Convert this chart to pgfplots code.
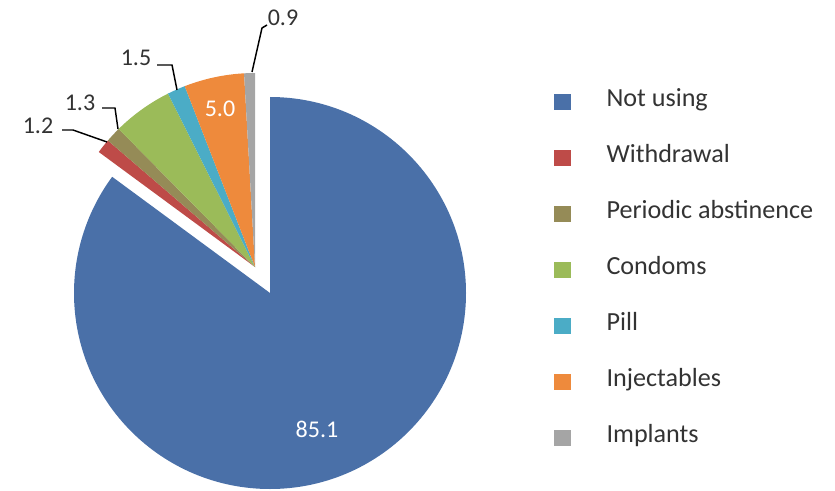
\documentclass[border=0pt]{standalone}
\usepackage{pgfplots}
\usepackage{pgfplotstable}
\usepackage{fontspec}
\setmainfont{Carlito}
\pgfplotsset{compat=1.18}
\definecolor{cNot}{HTML}{4A70A8}
\definecolor{cWith}{HTML}{BE4B48}
\definecolor{cPer}{HTML}{958B57}
\definecolor{cCon}{HTML}{9BBB59}
\definecolor{cPill}{HTML}{4BACC6}
\definecolor{cInj}{HTML}{EE8A3C}
\definecolor{cImp}{HTML}{A5A5A5}
\definecolor{txt}{HTML}{333333}

\pgfplotstableread[col sep=comma]{
method,value,color
Not using,85.1,cNot
Withdrawal,1.2,cWith
Periodic abstinence,1.3,cPer
Condoms,5.0,cCon
Pill,1.5,cPill
Injectables,5.0,cInj
Implants,0.9,cImp
}\piedata

\begin{document}
\begin{tikzpicture}
\begin{axis}[
  x=0.75pt, y=0.75pt,
  xmin=0, xmax=835, ymin=0, ymax=490,
  hide axis, clip=false,
  legend style={at={(554/835,398/490)}, anchor=north west, draw=none, fill=none,
    inner sep=0pt, column sep=0pt, row sep=28pt, font=\fontsize{19.6}{19.6}\selectfont\color{txt},
    nodes={inner xsep=2pt, inner ysep=0pt, text height=11pt, text depth=3pt, anchor=west},
    legend cell align=left},
  legend image code/.code={},
]
\path (axis cs:0,0) rectangle (axis cs:835,490);
\def\angstart{90}
\pgfplotsforeachungrouped \i in {0,...,6}{%
  \pgfplotstablegetelem{\i}{value}\of\piedata \let\val\pgfplotsretval
  \pgfplotstablegetelem{\i}{color}\of\piedata \let\col\pgfplotsretval
  \pgfmathsetmacro\angend{\angstart-3.6*\val}%
  \ifnum\i=0 \def\cx{270}\def\cy{197}\def\R{147pt}\else \def\cx{255}\def\cy{223}\def\R{145.5pt}\fi
  \edef\cmd{\noexpand\fill[\col] (axis cs:\cx,\cy) -- ++(\angstart:\R) arc[start angle=\angstart, end angle=\angend, radius=\R] -- cycle;}%
  \cmd
  \global\let\angstart\angend
}
% leader lines
\draw[black, line width=1.1pt] (axis cs:252,418) -- (axis cs:262,462) -- (axis cs:267,465);
\draw[black, line width=1.1pt] (axis cs:177,400) -- (axis cs:172,425) -- (axis cs:157,425);
\draw[black, line width=1.1pt] (axis cs:118,361) -- (axis cs:115,382) -- (axis cs:102,382);
\draw[black, line width=1.1pt] (axis cs:107,348) -- (axis cs:73,360) -- (axis cs:62,360);
% labels
\node[font=\fontsize{18}{18}\selectfont, text=white] at (axis cs:317,61) {85.1};
\node[font=\fontsize{18}{18}\selectfont, text=white] at (axis cs:220,381) {5.0};
\node[font=\fontsize{18}{18}\selectfont, text=txt] at (axis cs:283,472) {0.9};
\node[font=\fontsize{18}{18}\selectfont, text=txt] at (axis cs:136,432) {1.5};
\node[font=\fontsize{18}{18}\selectfont, text=txt] at (axis cs:80,387) {1.3};
\node[font=\fontsize{18}{18}\selectfont, text=txt] at (axis cs:38,364) {1.2};
% legend
\addlegendimage{legend image code/.code={\fill[cNot] (0pt,-5.6pt) rectangle (11.5pt,5.6pt); \path[draw=none,fill=none] (0pt,0pt) -- (37pt,0pt);}}
\addlegendentry{Not using}
\addlegendimage{legend image code/.code={\fill[cWith] (0pt,-5.6pt) rectangle (11.5pt,5.6pt); \path[draw=none,fill=none] (0pt,0pt) -- (37pt,0pt);}}
\addlegendentry{Withdrawal}
\addlegendimage{legend image code/.code={\fill[cPer] (0pt,-5.6pt) rectangle (11.5pt,5.6pt); \path[draw=none,fill=none] (0pt,0pt) -- (37pt,0pt);}}
\addlegendentry{Periodic abstinence}
\addlegendimage{legend image code/.code={\fill[cCon] (0pt,-5.6pt) rectangle (11.5pt,5.6pt); \path[draw=none,fill=none] (0pt,0pt) -- (37pt,0pt);}}
\addlegendentry{Condoms}
\addlegendimage{legend image code/.code={\fill[cPill] (0pt,-5.6pt) rectangle (11.5pt,5.6pt); \path[draw=none,fill=none] (0pt,0pt) -- (37pt,0pt);}}
\addlegendentry{Pill}
\addlegendimage{legend image code/.code={\fill[cInj] (0pt,-5.6pt) rectangle (11.5pt,5.6pt); \path[draw=none,fill=none] (0pt,0pt) -- (37pt,0pt);}}
\addlegendentry{Injectables}
\addlegendimage{legend image code/.code={\fill[cImp] (0pt,-5.6pt) rectangle (11.5pt,5.6pt); \path[draw=none,fill=none] (0pt,0pt) -- (37pt,0pt);}}
\addlegendentry{Implants}
\end{axis}
\end{tikzpicture}
\end{document}
